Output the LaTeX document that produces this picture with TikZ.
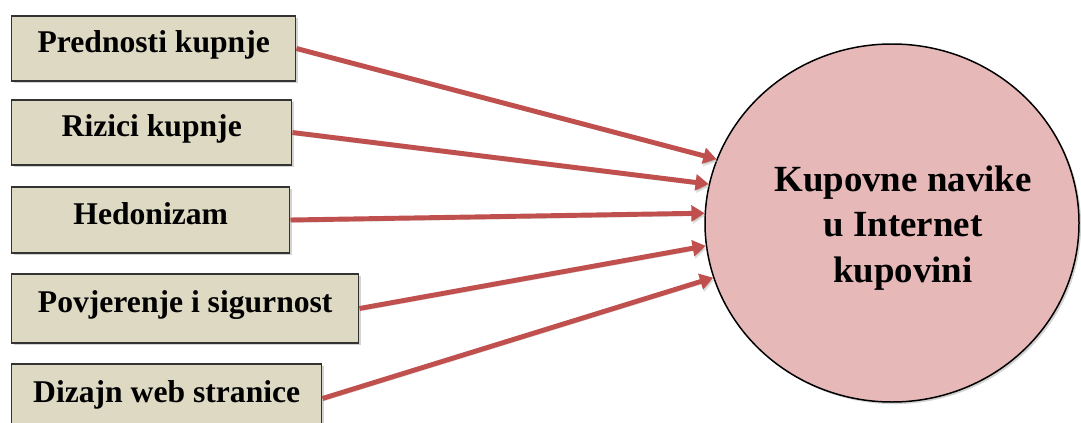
\documentclass[tikz,border=0pt]{standalone}
\usepackage{fontspec}
\setmainfont{Liberation Serif}
\usetikzlibrary{arrows.meta,shapes.geometric,shadows}

\definecolor{boxfill}{HTML}{DDD9C3}
\definecolor{circfill}{HTML}{E6B9B8}
\definecolor{arrred}{HTML}{C0504D}

\tikzset{
  faktor/.style={draw=black!80, line width=0.85pt, fill=boxfill, anchor=west,
    minimum height=1.3cm, text height=0.68em, text depth=0.22em,
    font=\fontsize{18}{22}\selectfont\bfseries,
    drop shadow={shadow xshift=1.2pt, shadow yshift=-1.2pt, opacity=0.35}},
  utjecaj/.style={draw=arrred, line width=2.8pt, -{Triangle[length=7.5pt,width=9pt]},
    preaction={draw=black!25, draw opacity=0.5, transform canvas={shift={(0.6pt,-1.4pt)}}}}
}

\begin{document}
\begin{tikzpicture}
            \useasboundingbox (0,0) rectangle (21.62,-8.46);
            \node [faktor, minimum width=5.68cm] (prednosti) at (0.22,-0.97) {Prednosti kupnje};
            \node [faktor, minimum width=5.60cm] (rizici) at (0.22,-2.65) {Rizici kupnje};
            \node [faktor, minimum width=5.56cm, minimum height=1.32cm] (hedonizam) at (0.22,-4.40) {Hedonizam};
            \node [faktor, minimum width=6.94cm, minimum height=1.38cm] (povjerenje) at (0.22,-6.17) {Povjerenje i sigurnost};
            \node [faktor, minimum width=6.20cm, minimum height=1.38cm] (dizajn) at (0.22,-7.97) {Dizajn web stranice};
            \node [ellipse, draw, line width=0.85pt, fill=circfill, minimum width=7.48cm, minimum height=7.16cm,
                   drop shadow={shadow xshift=1.2pt, shadow yshift=-1.2pt, opacity=0.35},
                   label={[xshift=0.22cm, yshift=-0.1cm, align=center, font=\fontsize{21}{26}\selectfont\bfseries]center:Kupovne navike\\u Internet\\kupovini}]
                   (navike) at (17.84,-4.46) {};
            \draw [utjecaj] (prednosti.east) -- (navike.160);
            \draw [utjecaj] (rizici.east) -- (navike.168);
            \draw [utjecaj] (hedonizam.east) -- (navike.177);
            \draw [utjecaj] (povjerenje.east) -- (navike.187);
            \draw [utjecaj] (dizajn.east) -- (navike.197);
        \end{tikzpicture}
\end{document}
